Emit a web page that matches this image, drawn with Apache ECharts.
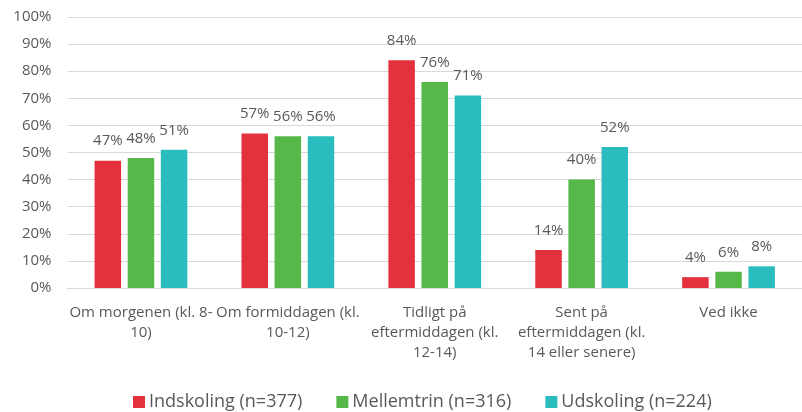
<!DOCTYPE html>
<html>
<head>
<meta charset="utf-8">
<script src="https://cdn.jsdelivr.net/npm/echarts@6/dist/echarts.min.js"></script>
<style>
  html, body { margin: 0; padding: 0; background: #fff; }
  #chart { width: 802px; height: 412px; }
</style>
</head>
<body>
<div id="chart"></div>
<script>
// Time-of-day categories (labels wrapped as they appear under the axis)
const categories = [
  'Om morgenen (kl. 8-\n10)',
  'Om formiddagen (kl.\n10-12)',
  'Tidligt på\neftermiddagen (kl.\n12-14)',
  'Sent på\neftermiddagen (kl.\n14 eller senere)',
  'Ved ikke'
];

const seriesNames = ['Indskoling (n=377)', 'Mellemtrin (n=316)', 'Udskoling (n=224)'];

// Share of respondents, in percent
const indskoling = [47, 57, 84, 14, 4];
const mellemtrin = [48, 56, 76, 40, 6];
const udskoling  = [51, 56, 71, 52, 8];

const yTicks = [0, 10, 20, 30, 40, 50, 60, 70, 80, 90, 100];

const colors = ['#e3313e', '#57b84a', '#2bbdbd'];
const textColor = '#595959';
const fontFamily = '"Open Sans", "Noto Sans", sans-serif';

const chart = echarts.init(document.getElementById('chart'), null, { renderer: 'canvas' });

const mkSeries = (name, data, i) => ({
  name: name,
  type: 'bar',
  data: data,
  barWidth: 26.5,
  barGap: '25%',
  itemStyle: { color: colors[i] },
  label: {
    show: true,
    position: 'top',
    distance: 12,
    formatter: p => p.value + '%',
    color: textColor,
    fontFamily: fontFamily,
    fontSize: 15
  }
});

chart.setOption({
  animation: false,
  backgroundColor: '#fff',
  // the plot area runs slightly past the right edge of the canvas
  grid: { left: 67.5, top: 17, width: 746, bottom: 124, containLabel: false },
  legend: {
    left: 128,
    top: 388,
    itemWidth: 12,
    itemHeight: 12,
    itemGap: 34,
    icon: 'rect',
    textStyle: { color: textColor, fontFamily: fontFamily, fontSize: 18, padding: [0, 0, 0, -1] },
    data: seriesNames
  },
  xAxis: {
    type: 'category',
    data: categories,
    axisTick: { show: false },
    axisLine: { show: true, lineStyle: { color: '#d9d9d9', width: 1 } },
    axisLabel: {
      interval: 0,
      margin: 15,
      color: textColor,
      fontFamily: fontFamily,
      fontSize: 15,
      lineHeight: 20
    }
  },
  yAxis: {
    type: 'value',
    min: yTicks[0],
    max: yTicks[yTicks.length - 1],
    interval: 10,
    axisLine: { show: false },
    axisTick: { show: false },
    splitLine: { lineStyle: { color: '#d9d9d9', width: 1 } },
    axisLabel: {
      margin: 16,
      color: textColor,
      fontFamily: fontFamily,
      fontSize: 15,
      formatter: v => v + '%'
    }
  },
  series: [
    mkSeries(seriesNames[0], indskoling, 0),
    mkSeries(seriesNames[1], mellemtrin, 1),
    mkSeries(seriesNames[2], udskoling, 2)
  ]
});
</script>
</body>
</html>
